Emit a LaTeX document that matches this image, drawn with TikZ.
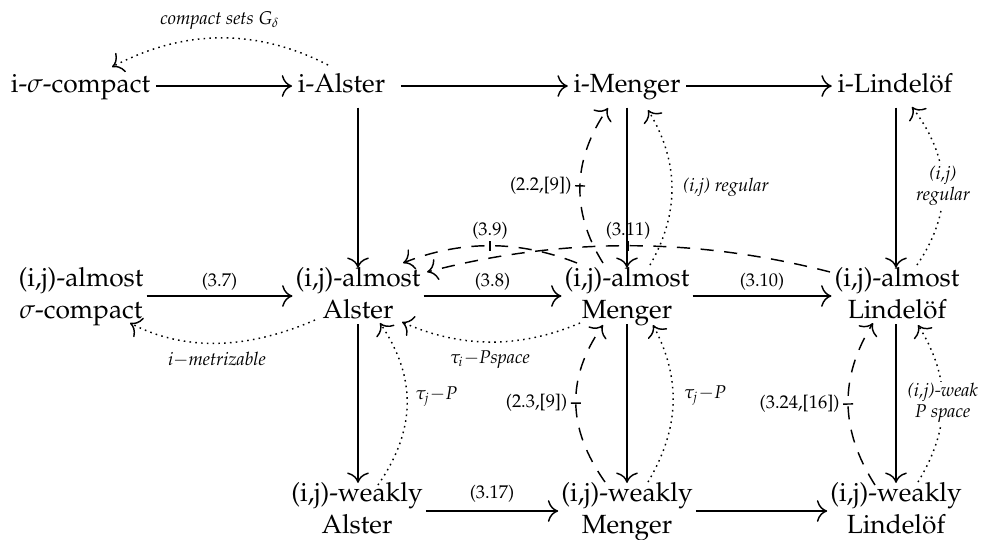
\documentclass[tikz,border=0pt]{standalone}
\usepackage[T1]{fontenc}
\usepackage{mathpazo}
\usetikzlibrary{arrows.meta,calc}
\begin{document}
\begin{tikzpicture}[x=0.38pt,y=-0.38pt,
  every node/.style={inner sep=0pt},
  one/.style={inner xsep=2pt, inner ysep=3pt, text height=0.75em, text depth=0.25em},
  two/.style={inner xsep=1pt, inner ysep=-1.5pt},
  arr/.style={line width=0.55pt, -{Computer Modern Rightarrow[scale=1.4]}},
  dot/.style={arr, dash pattern=on 0.6pt off 1.6pt},
  dsh/.style={arr, dash pattern=on 5pt off 4pt},
  lab/.style={font=\scriptsize},
  ilab/.style={font=\scriptsize\itshape},
  onlab/.style={font=\scriptsize\itshape, fill=white, align=center, inner sep=0.5pt},
  bar/.style={sloped, inner sep=0pt}
]
\useasboundingbox (0,0) rectangle (981,539);

% row 1
\node[one] (isc) at (80.5,86) {i-$\sigma$-compact};
\node[one] (ialster) at (341.5,86) {i-Alster};
\node[one] (imenger) at (627,86) {i-Menger};
\node[one] (ilindelof) at (895,86) {i-Lindel\"of};
% row 2
\node[two] (asc) at (81,296) {\begin{tabular}{@{}c@{}}(i,j)-almost\\$\sigma$-compact\end{tabular}};
\node[two] (aalster) at (358,296) {\begin{tabular}{@{}c@{}}(i,j)-almost\\Alster\end{tabular}};
\node[two] (amenger) at (627,296) {\begin{tabular}{@{}c@{}}(i,j)-almost\\Menger\end{tabular}};
\node[two] (alindelof) at (897,296) {\begin{tabular}{@{}c@{}}(i,j)-almost\\Lindel\"of\end{tabular}};
% row 3
\node[two] (walster) at (357,511) {\begin{tabular}{@{}c@{}}(i,j)-weakly\\Alster\end{tabular}};
\node[two] (wmenger) at (627,511) {\begin{tabular}{@{}c@{}}(i,j)-weakly\\Menger\end{tabular}};
\node[two] (wlindelof) at (896,511) {\begin{tabular}{@{}c@{}}(i,j)-weakly\\Lindel\"of\end{tabular}};

% solid horizontal
\draw[arr] (isc) -- (ialster);
\draw[arr] ($(ialster.east)+(10,0)$) -- (imenger);
\draw[arr] (imenger) -- (ilindelof);
\draw[arr] (asc) -- (aalster) node[lab,midway,above=2pt] {(3.7)};
\draw[arr] (aalster) -- (amenger) node[lab,midway,above=2pt] {(3.8)};
\draw[arr] (amenger) -- (alindelof) node[lab,midway,above=2pt] {(3.10)};
\draw[arr] (walster) -- (wmenger) node[lab,midway,above=3pt] {(3.17)};
\draw[arr] (wmenger) -- (wlindelof);

% solid vertical
\draw[arr] (ialster.south -| aalster) -- (aalster);
\draw[arr] (imenger) -- (amenger);
\draw[arr] (ilindelof.south -| 896,0) -- (alindelof.north -| 896,0);
\draw[arr] (aalster) -- (aalster.south |- walster.north);
\draw[arr] (amenger) -- (wmenger);
\draw[arr] (alindelof.south -| 896,0) -- (wlindelof);

% dotted
\draw[dot] ($(ialster)+(-13.5,-21)$) .. controls (256,28) and (184,29) .. ($(isc)+(31.5,-19)$)
  node[ilab,pos=.5,above=3pt] {compact sets $G_\delta$};
\draw[dot] ($(aalster)+(-43,24)$) .. controls (246,350) and (184,351) .. ($(asc)+(49,27)$)
  node[ilab,pos=.5,below=3pt] {i$-$metrizable};
\draw[dot] ($(amenger)+(-47,27)$) .. controls (519,349) and (460,348) .. ($(aalster)+(44,26)$)
  node[ilab,pos=.5,below=3pt] {$\tau_i{-}$Pspace};
\draw[dot] ($(walster)+(21,-26)$) .. controls (416,430) and (417,378) .. ($(aalster)+(22,27)$)
  node[ilab,pos=.55,right=3pt] {$\tau_j{-}P$};
\draw[dot] ($(wmenger)+(21,-29)$) .. controls (680,428) and (681,378) .. ($(amenger)+(26,29)$)
  node[ilab,pos=.55,right=4pt] {$\tau_j{-}P$};
\draw[dot] ($(amenger)+(23,-31)$) .. controls (680,213) and (679,161) .. ($(imenger)+(21,24)$)
  node[ilab,pos=.5,right=4pt] {(i,j) regular};
\draw[dot] ($(alindelof)+(20,-31)$) .. controls (953,212) and (952,160) .. ($(ilindelof)+(17,21)$)
  node[onlab,pos=.5] {(i,j)\\regular};
\draw[dot] ($(wlindelof)+(22,-29)$) .. controls (951,428) and (951,378) .. ($(alindelof)+(21,29)$)
  node[onlab,pos=.5] {(i,j)-weak\\P space};

% dashed
\draw[dsh] ($(amenger)+(-24,-33)$) .. controls (571,212) and (572,160) .. ($(imenger)+(-19,22)$)
  node[bar,pos=.5] {\rule[-1.9pt]{0.55pt}{3.8pt}}
  node[lab,pos=.5,left=3pt] {(2.2,[9])};
\draw[dsh] ($(wmenger)+(-22,-29)$) .. controls (567,428) and (566,378) .. ($(amenger)+(-24,29)$)
  node[bar,pos=.5] {\rule[-1.9pt]{0.55pt}{3.8pt}}
  node[lab,pos=.5,left=3pt] {(2.3,[9])};
\draw[dsh] ($(wlindelof)+(-21,-26)$) .. controls (840,430) and (839,378) .. ($(alindelof)+(-24,27)$)
  node[bar,pos=.5] {\rule[-1.9pt]{0.55pt}{3.8pt}}
  node[lab,pos=.5,left=3pt] {(3.24,[16])};
\draw[dsh] ($(amenger)+(-50,-33)$) .. controls (519,240) and (461,240) .. ($(aalster)+(45,-33)$)
  node[bar,pos=.5] {\rule[-1.9pt]{0.55pt}{3.8pt}}
  node[lab,pos=.5,above=2pt] {(3.9)};
\draw[dsh] ($(alindelof)+(-67,-24)$) .. controls (695,237) and (561,237) .. ($(aalster)+(69,-24)$)
  node[bar,pos=.5] {\rule[-1.9pt]{0.55pt}{3.8pt}}
  node[lab,pos=.5,above=2pt] {(3.11)};
\end{tikzpicture}
\end{document}
